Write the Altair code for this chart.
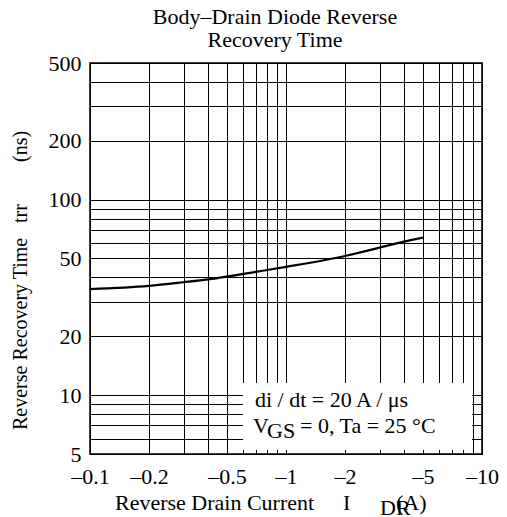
import altair as alt
import pandas as pd

# Curve data (reverse drain current magnitude in A, trr in ns)
current = [0.1, 0.2, 0.3, 0.4, 0.5, 0.7, 1.0, 2.0, 3.0, 4.0, 5.0]
trr = [34.9, 36.2, 37.8, 39.1, 40.4, 42.7, 45.3, 51.5, 56.8, 61.0, 64.0]

x_grid = [0.1, 0.2, 0.3, 0.4, 0.5, 0.6, 0.7, 0.8, 0.9, 1, 2, 3, 4, 5, 6, 7, 8, 9, 10]
x_labels = [0.1, 0.2, 0.5, 1, 2, 5, 10]
y_grid = [5, 6, 7, 8, 9, 10, 20, 30, 40, 50, 60, 70, 80, 90, 100, 200, 300, 400, 500]
y_labels = [5, 10, 20, 50, 100, 200, 500]

FONT = "Liberation Serif"
FS = 22
W, H = 392, 391

df = pd.DataFrame({"I": current, "trr": trr})

xlab = "indexof(" + str(x_labels) + ", datum.value) >= 0 ? '\u2013' + datum.value : ''"
ylab = "indexof(" + str(y_labels) + ", datum.value) >= 0 ? '' + datum.value : ''"

xscale = alt.Scale(type="log", domain=[0.1, 10], nice=False)
yscale = alt.Scale(type="log", domain=[5, 500], nice=False)

xaxis = alt.Axis(values=x_grid, labelExpr=xlab, grid=True, ticks=False, domain=False,
                 labelOverlap=False, labelFlush=False, labelFont=FONT, labelFontSize=FS,
                 labelColor="#000", labelPadding=12, gridColor="#000", gridWidth=1,
                 gridOpacity=1, title=None)
yaxis = alt.Axis(values=y_grid, labelExpr=ylab, grid=True, ticks=False, domain=False,
                 labelOverlap=False, labelFlush=False, labelFont=FONT, labelFontSize=FS,
                 labelColor="#000", labelPadding=9, gridColor="#000", gridWidth=1,
                 gridOpacity=1, title=None, labelBaseline="middle")

line = alt.Chart(df).mark_line(color="#000", strokeWidth=2.2, interpolate="monotone").encode(
    x=alt.X("I:Q", scale=xscale, axis=xaxis),
    y=alt.Y("trr:Q", scale=yscale, axis=yaxis),
)

box = alt.Chart(pd.DataFrame({"a": [0]})).mark_rect(fill="white").encode(
    x=alt.value(153), x2=alt.value(382), y=alt.value(320), y2=alt.value(387)
)

def txt(s, x, y, size=FS, angle=0, align="left"):
    return alt.Chart(pd.DataFrame({"t": [s]})).mark_text(
        font=FONT, fontSize=size, color="#000", align=align, baseline="alphabetic", angle=angle
    ).encode(text="t:N", x=alt.value(x), y=alt.value(y))

texts = [
    txt("Body\u2013Drain Diode Reverse", 185, -39, align="center"),
    txt("Recovery Time", 185, -16, align="center"),
    txt("di / dt = 20 A / \u03bcs", 165, 344),
    txt("V", 163, 370),
    txt("GS", 177, 375),
    txt("= 0, Ta = 25 \u00b0C", 210, 370),
    txt("Reverse Drain Current", 25, 447),
    txt("I", 253, 447),
    txt("DR", 290, 452),
    txt("(A)", 306, 447),
    txt("Reverse Recovery Time", -63, 367, size=20, angle=270),
    txt("trr", -63, 160, size=20, angle=270),
    txt("(ns)", -63, 99, size=20, angle=270),
]

chart = alt.layer(line, box, *texts).properties(
    width=W, height=H,
    autosize=alt.AutoSizeParams(type="none"),
    padding={"left": 82, "top": 55, "right": 17, "bottom": 66},
).configure_view(stroke="#000", strokeWidth=1.5)

chart.save("out.html", embed_options={"renderer": "svg", "actions": False})
